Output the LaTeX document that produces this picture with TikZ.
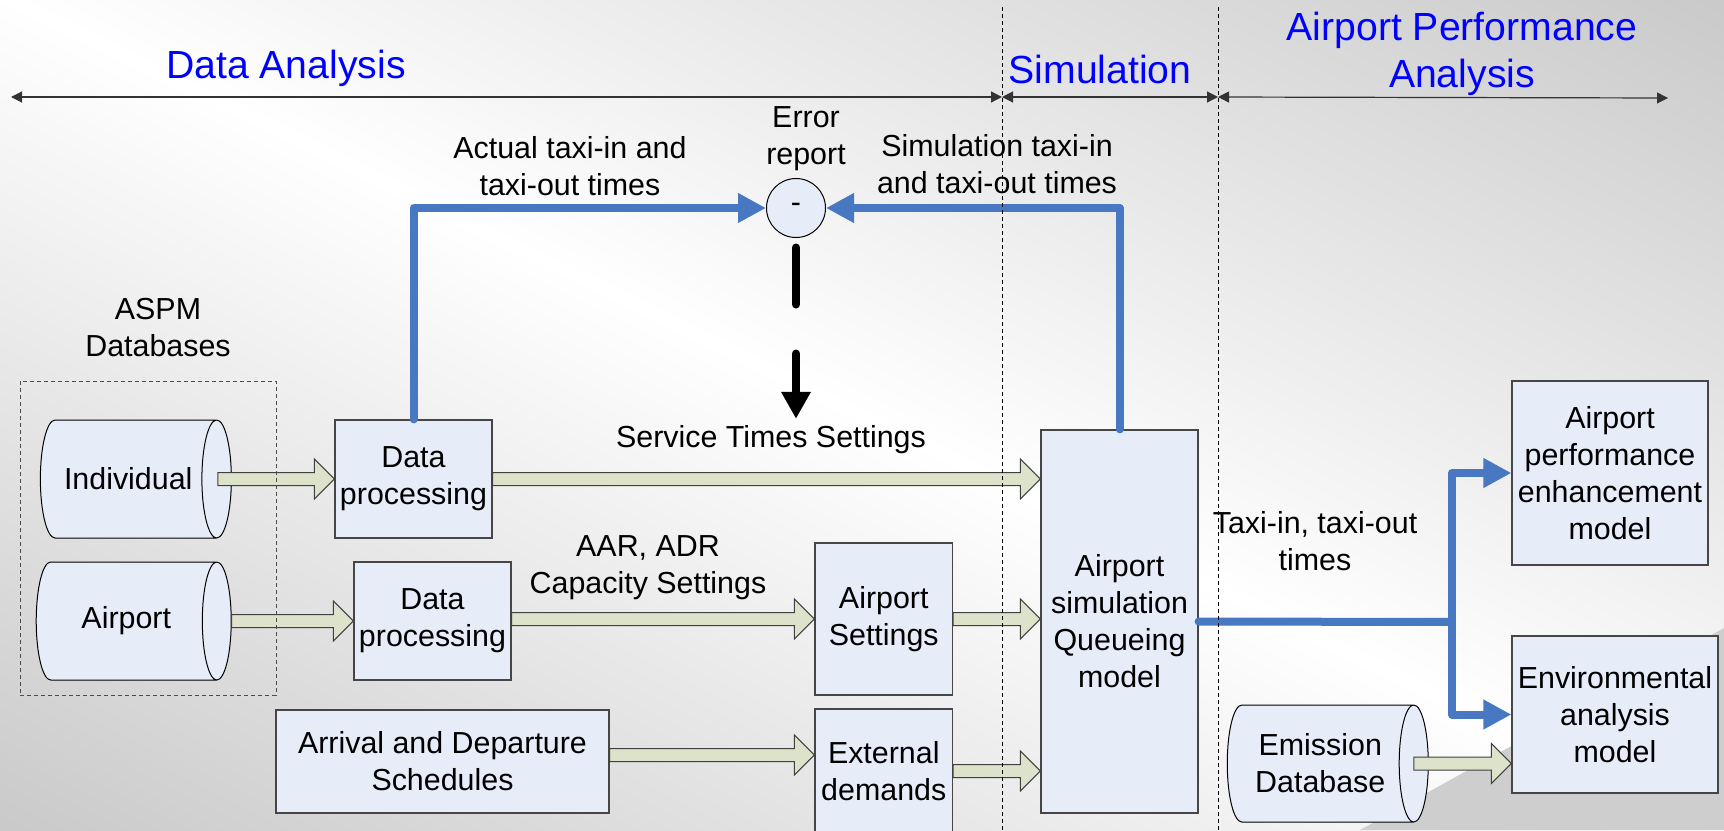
\documentclass[tikz,border=0pt]{standalone}
\usepackage{fontspec}
\setmainfont{Liberation Sans}
\usetikzlibrary{shapes.geometric,arrows.meta,calc}
\definecolor{boxfill}{RGB}{231,237,248}
\definecolor{boxline}{RGB}{70,70,70}
\definecolor{fatfill}{RGB}{221,226,203}
\definecolor{linkblue}{RGB}{71,120,193}
\definecolor{headblue}{RGB}{0,0,255}
\definecolor{bggray}{RGB}{198,198,198}
\definecolor{cornergray}{RGB}{206,206,206}
\tikzset{
  every node/.style={font=\fontsize{15.2pt}{18.5pt}\selectfont, align=center},
  procbox/.style={draw=boxline, line width=0.6pt, fill=boxfill, inner sep=0pt},
  dbase/.style={cylinder, draw=black, line width=0.5pt, fill=boxfill, inner sep=0pt},
  heading/.style={text=headblue, font=\fontsize{19.6pt}{23.5pt}\selectfont},
  span/.style={draw=black!80, line width=0.6pt, {Triangle[length=5.5pt,width=5.5pt]}-{Triangle[length=5.5pt,width=5.5pt]}},
  divider/.style={draw=black, line width=0.5pt, dash pattern=on 2pt off 1.5pt},
  dbframe/.style={draw=black!70, line width=0.5pt, dash pattern=on 2pt off 1.5pt, inner sep=0pt},
  bluelink/.style={draw=linkblue, line width=4pt, line cap=round, line join=round},
  bluearrow/.style={bluelink, -{Triangle[length=14pt,width=14pt]}},
  errlink/.style={draw=black, line width=4pt, line cap=round, dash pattern=on 28.5pt off 24.5pt,
    shorten <=4.75pt, -{Triangle[length=13.5pt,width=14pt]}},
  fatarrow/.style={draw=black!75, line width=0.5pt, fill=fatfill},
}
\newcommand\fatlink[2]{%
  \draw[fatarrow] let \p1=(#1), \p2=(#2) in
    (\x1,\y2+3.25pt) -- (\x2-10pt,\y2+3.25pt) -- (\x2-10pt,\y2+10pt) -- (\x2,\y2)
    -- (\x2-10pt,\y2-10pt) -- (\x2-10pt,\y2-3.25pt) -- (\x1,\y2-3.25pt) -- cycle;}
\begin{document}
\begin{tikzpicture}[x=0.5pt, y=-0.5pt]
  \useasboundingbox (0,0) rectangle (1724,830);
  \begin{scope}
    \clip (0,0) rectangle (1724,830);
    \shade[top color=bggray, bottom color=bggray, middle color=white,
      transform canvas={rotate around={-26:(862,415)}}] (-138,-385) rectangle (1862,1215);
    \fill[cornergray] (1360,830) -- (1724,628) -- (1724,830) -- cycle;
  \end{scope}

  \node[heading] (hdata) at (286,68) {Data Analysis};
  \node[heading] (hsim) at (1100,69) {Simulation};
  \node[heading] (hperf) at (1462,54) {Airport Performance\\Analysis};
  \coordinate (s0) at (11,97);
  \coordinate (s1) at (1002,97);
  \coordinate (s2) at (1218,97);
  \coordinate (s3) at (1668,98);

  \node (aspm) at (158,328) {ASPM\\Databases};
  \node (actual) at (570,166) {Actual taxi-in and\\taxi-out times};
  \node (errlbl) at (806,139) {Error\\report};
  \node (simlbl) at (997,164) {Simulation taxi-in\\and taxi-out times};
  \node (svc) at (771,440) {Service Times Settings};
  \node (aar) at (648,568) {AAR, ADR\\Capacity Settings};
  \node (taxi) at (1315,541) {Taxi-in, taxi-out\\times};

  \node[dbase, aspect=1.32, minimum width=59pt, minimum height=95.5pt] (ind) at (128.25,479) {Individual};
  \node[dbase, aspect=1.02, minimum width=59pt, minimum height=97.5pt] (apt) at (126.25,621) {Airport};
  \node[dbase, aspect=0.49, minimum width=58.5pt, minimum height=100.5pt] (emis) at (1320.25,763.5) {Emission\\Database};

  \node[procbox, minimum width=78.5pt, minimum height=59pt] (dp1) at (413.5,479) {Data\\processing};
  \node[procbox, minimum width=78.5pt, minimum height=59pt] (dp2) at (432.5,621) {Data\\processing};
  \node[procbox, minimum width=68.75pt, minimum height=76pt] (aset) at (883.75,619) {Airport\\Settings};
  \node[procbox, minimum width=68.75pt, minimum height=62pt] (ext) at (883.75,771) {External\\demands};
  \node[procbox, minimum width=166.5pt, minimum height=51.5pt] (sched) at (442.5,761.5) {Arrival and Departure\\Schedules};
  \node[procbox, minimum width=78.5pt, minimum height=191.5pt] (sim) at (1119.5,621.5) {Airport\\simulation\\Queueing\\model};
  \node[procbox, minimum width=98pt, minimum height=92pt] (perf) at (1610,473) {Airport\\performance\\enhancement\\model};
  \node[procbox, minimum width=103pt, minimum height=78.5pt] (env) at (1615,714.5) {Environmental\\analysis\\model};
  \node[circle, draw=black, line width=0.5pt, fill=boxfill, minimum size=29.5pt, inner sep=0pt] (err) at (796,208) {-};

  \draw[span] (s0) -- (s1);
  \draw[span] (s1) -- (s2);
  \draw[span] (s2) -- (s3);

  \draw[bluearrow] (dp1.north) |- (err.west);
  \draw[bluearrow] (sim.north) |- (err.east);
  \coordinate (fork) at (1452,622);
  \draw[bluelink] (sim.east) -- (fork);
  \draw[bluearrow] (fork) |- (perf.west);
  \draw[bluearrow] (fork) |- (env.west);
  \draw[errlink] (err.south) -- (err.south |- svc.north);

  \fatlink{[xshift=-7pt]ind.east}{dp1.west}
  \fatlink{apt.east}{dp2.west}
  \fatlink{dp1.east}{dp1.east -| sim.west}
  \fatlink{dp2.east}{aset.west}
  \fatlink{aset.east}{aset.east -| sim.west}
  \fatlink{sched.east}{[yshift=8pt]ext.west}
  \fatlink{ext.east}{ext.east -| sim.west}
  \fatlink{[xshift=-7.5pt]emis.east}{emis -| env.west}

  \node[dbframe, minimum width=128pt, minimum height=157pt] (dbgroup) at (148,538) {};
  \draw[divider] (1002,7) -- (1002,830);
  \draw[divider] (1218,7) -- (1218,830);
\end{tikzpicture}
\end{document}
